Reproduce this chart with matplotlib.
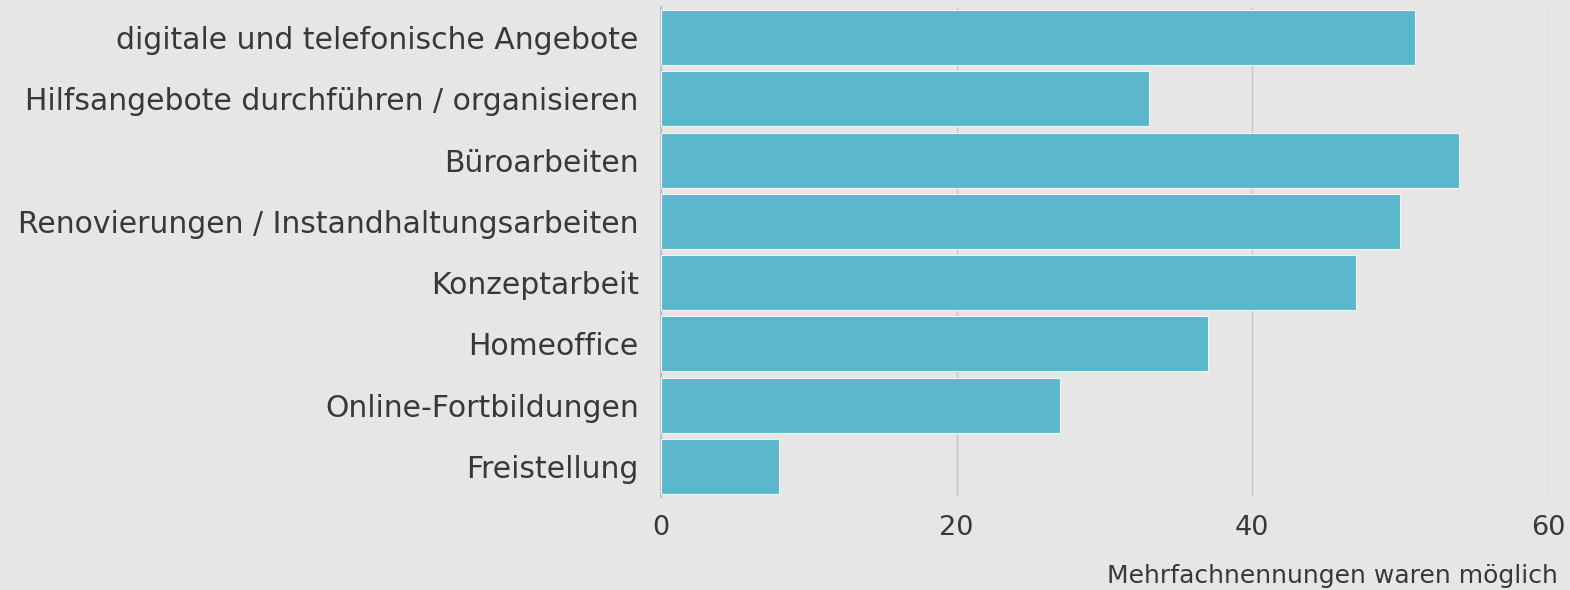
import matplotlib.pyplot as plt

categories = ["digitale und telefonische Angebote",
              "Hilfsangebote durchführen / organisieren",
              "Büroarbeiten",
              "Renovierungen / Instandhaltungsarbeiten",
              "Konzeptarbeit",
              "Homeoffice",
              "Online-Fortbildungen",
              "Freistellung"]
values = [51, 33, 54, 50, 47, 37, 27, 8]
xticks = [0, 20, 40, 60]
note = "Mehrfachnennungen waren möglich"

bg = "#e6e6e6"
bar_color = "#5bb8cc"
text_color = "#383838"

plt.rcParams['font.family'] = ['DejaVu Sans']

fig = plt.figure(figsize=(15.7, 5.9), dpi=100, facecolor=bg)
ax = fig.add_axes([0.421, 0.1576, 0.565, 0.8305])
ax.set_facecolor(bg)

ypos = list(range(len(categories)))
ax.barh(ypos, values, height=0.9, color=bar_color, edgecolor="#eef6f8",
        linewidth=0.8, zorder=3)

ax.set_ylim(len(categories) - 0.5, -0.5)
ax.set_xlim(0, 60)
ax.set_xticks(xticks)
ax.set_xticklabels([str(t) for t in xticks])
ax.set_yticks(ypos)
ax.set_yticklabels(categories)

ax.grid(axis="x", color="#c4c4c4", linewidth=1, zorder=0)
for s in ["top", "right", "bottom"]:
    ax.spines[s].set_visible(False)
ax.spines["left"].set_color("#bbbbbb")
ax.spines["left"].set_linewidth(1.2)

ax.tick_params(axis="y", length=0, pad=16, labelsize=21.5, labelcolor=text_color)
ax.tick_params(axis="x", length=0, pad=13, labelsize=19.5, labelcolor=text_color)

fig.text(0.992, 0.004, note, ha="right", va="bottom", fontsize=18, color=text_color)

fig.savefig("out.png", facecolor=bg)
